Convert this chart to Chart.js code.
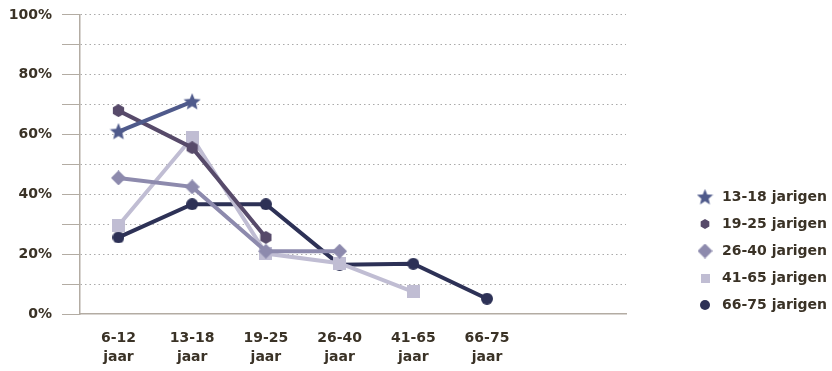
<!DOCTYPE html>
<html>
<head>
<meta charset="utf-8">
<script src="https://cdn.jsdelivr.net/npm/chart.js@4.4.1/dist/chart.umd.min.js"></script>
<style>
  html, body { margin: 0; padding: 0; background: #fff; }
  #wrap { width: 832px; height: 371px; }
</style>
</head>
<body>
<div id="wrap"><canvas id="chart"></canvas></div>
<script>
// age groups on the x axis (two-line labels)
const ageGroups = [
  ["6-12", "jaar"],
  ["13-18", "jaar"],
  ["19-25", "jaar"],
  ["26-40", "jaar"],
  ["41-65", "jaar"],
  ["66-75", "jaar"],
];
const seriesNames = ["13-18 jarigen", "19-25 jarigen", "26-40 jarigen", "41-65 jarigen", "66-75 jarigen"];

// percentages per series
const jarigen1318 = [61, 71, null, null, null, null];
const jarigen1925 = [68, 55.6, 25.6, null, null, null];
const jarigen2640 = [45.5, 42.5, 21, 21, null, null];
const jarigen4165 = [29.6, 59, 20.2, 17, 7.4, null];
const jarigen6675 = [25.6, 36.7, 36.7, 16.5, 16.8, 5.1];

const yTickValues = [0, 20, 40, 60, 80, 100];

const colors = ["#4f5a8b", "#574a6a", "#8d8aad", "#c0bdd3", "#2d3156"];
const shapes = ["star", "hexagon", "diamond", "square", "circle"];
const textColor = "#3a3226";
const axisColor = "#b3aca3";
const FONT = '"DejaVu Sans", sans-serif';

// small canvases used as point styles (filled star / hexagon are not built in)
function makeMarker(shape, size, color) {
  const c = document.createElement("canvas");
  c.width = size;
  c.height = size;
  const g = c.getContext("2d");
  const r = size / 2;
  g.fillStyle = color;
  g.beginPath();
  if (shape === "star") {
    for (let k = 0; k < 10; k++) {
      const rad = k % 2 === 0 ? r : r * 0.45;
      const a = -Math.PI / 2 + (k * Math.PI) / 5;
      g.lineTo(r + rad * Math.cos(a), r + 0.5 + rad * Math.sin(a));
    }
  } else if (shape === "hexagon") {
    for (let k = 0; k < 6; k++) {
      const a = -Math.PI / 2 + (k * Math.PI) / 3;
      g.lineTo(r + r * Math.cos(a), r + r * Math.sin(a));
    }
  } else if (shape === "diamond") {
    g.moveTo(r, 0);
    g.lineTo(size, r);
    g.lineTo(r, size);
    g.lineTo(0, r);
  } else if (shape === "square") {
    g.rect(0, 0, size, size);
  } else {
    g.arc(r, r, r, 0, Math.PI * 2);
  }
  g.closePath();
  g.fill();
  return c;
}

const plotSizes = [18, 13, 15, 13, 12];
const legendSizes = [17, 10, 15, 9, 10];
const plotMarks = shapes.map((s, i) => makeMarker(s, plotSizes[i], colors[i]));
const legendMarks = shapes.map((s, i) => makeMarker(s, legendSizes[i], colors[i]));

const allSeries = [jarigen1318, jarigen1925, jarigen2640, jarigen4165, jarigen6675];

const datasets = allSeries.map((vals, i) => ({
  label: seriesNames[i],
  data: vals.map((v, x) => ({ x, y: v })),
  borderColor: colors[i],
  backgroundColor: colors[i],
  borderWidth: 4,
  pointStyle: plotMarks[i],
  pointRadius: 7,
  tension: 0,
  spanGaps: false,
}));

const sideLegend = {
  id: "sideLegend",
  afterDraw(chart) {
    const ctx = chart.ctx;
    ctx.save();
    ctx.font = "bold 14px " + FONT;
    ctx.fillStyle = textColor;
    ctx.textBaseline = "middle";
    chart.data.datasets.forEach((ds, i) => {
      const y = 197 + i * 27;
      const m = legendMarks[i];
      ctx.drawImage(m, 705 - m.width / 2, y - m.height / 2);
      ctx.fillText(ds.label, 722, y);
    });
    ctx.restore();
  },
};

new Chart(document.getElementById("chart"), {
  type: "line",
  data: { datasets },
  plugins: [sideLegend],
  options: {
    responsive: true,
    maintainAspectRatio: false,
    animation: false,
    events: [],
    layout: { padding: { top: 12, right: 206, left: 0, bottom: 0 } },
    plugins: { legend: { display: false }, tooltip: { enabled: false } },
    scales: {
      x: {
        type: "linear",
        min: -0.522,
        max: 6.886,
        grid: { display: false },
        border: { display: true, color: axisColor, width: 1.5 },
        afterBuildTicks(scale) {
          scale.ticks = ageGroups.map((_, i) => ({ value: i }));
        },
        afterFit(scale) {
          scale.height = 57;
        },
        ticks: {
          padding: 7,
          color: textColor,
          font: { family: FONT, size: 14, weight: "bold", lineHeight: 1.35 },
          callback: (v) => ageGroups[v] || "",
        },
      },
      y: {
        min: 0,
        max: 100,
        afterBuildTicks(scale) {
          const t = [];
          for (let v = 0; v <= 100; v += 10) t.push({ value: v });
          scale.ticks = t;
        },
        afterFit(scale) {
          scale.width = 80;
        },
        grid: {
          color: (c) => (c.tick && c.tick.value === 0 ? "rgba(0,0,0,0)" : "#aaaaaa"),
          lineWidth: 1,
          drawTicks: true,
          tickLength: 18,
          tickColor: axisColor,
          tickWidth: 1,
        },
        border: { display: true, color: axisColor, width: 1.5, dash: [1.5, 3] },
        ticks: {
          padding: 10,
          color: textColor,
          font: { family: FONT, size: 14, weight: "bold", lineHeight: 0.7 },
          callback: (v) => (yTickValues.includes(v) ? v + "%" : ""),
        },
      },
    },
  },
});
</script>
</body>
</html>
